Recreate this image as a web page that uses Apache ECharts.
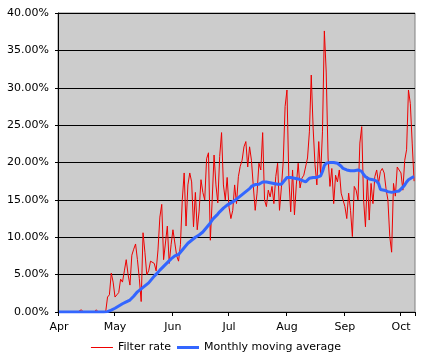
<!DOCTYPE html>
<html>
<head>
<meta charset="utf-8">
<script src="https://cdn.jsdelivr.net/npm/echarts@6/dist/echarts.min.js"></script>
<style>
html,body{margin:0;padding:0;background:#fff;}
#c{width:432px;height:361px;}
</style>
</head>
<body>
<div id="c"></div>
<script>
// Month tick labels and the day index (from Apr 1) where each month starts
var monthLabels = ['Apr','May','Jun','Jul','Aug','Sep','Oct'];
var monthStartIdx = [0, 30, 61, 91, 122, 153, 183];

// Daily filter rate (%), Apr 1 .. Oct 9
var filterRate = [
  0,0,0,0,0,0,0,0,0,0,0,0,0.3,0,0,0,0,0,0,0,0.3,0,0,0,0,0,
  2.0,2.3,5.2,4.0,2.0,2.3,2.6,4.4,4.0,5.5,7.0,5.0,3.6,7.6,8.4,9.1,7.0,4.5,1.4,10.6,8.0,5.0,5.5,6.8,7.0,6.5,5.5,8.3,12.7,14.4,7.0,7.0,11.5,6.5,9.0,
  11.0,10.8,7.5,6.8,9.0,15.0,18.6,11.5,17.0,18.6,17.4,11.4,16.0,11.0,13.5,17.7,16.0,15.0,20.5,21.3,9.6,15.0,21.0,17.0,14.6,20.8,24.0,17.0,15.0,18.0,
  14.0,12.5,13.6,17.0,14.5,18.1,19.5,20.3,22.1,22.8,19.4,22.1,20.3,16.8,13.6,15.9,19.9,19.0,24.0,15.0,14.1,16.3,15.4,16.8,14.5,18.1,19.9,13.6,16.6,20.1,
  27.5,29.7,17.9,13.4,19.0,13.0,17.0,19.9,16.6,17.9,18.3,18.1,20.6,24.1,31.7,24.6,19.7,17.0,22.8,18.3,24.1,37.6,32.1,20.6,16.8,19.2,14.5,18.3,17.4,19.0,
  15.9,16.1,14.1,12.5,15.9,13.6,10.1,16.8,16.3,15.0,22.6,24.8,15.0,11.4,18.1,12.3,17.2,14.5,18.1,19.0,17.2,18.8,19.2,18.6,16.5,15.0,10.1,8.0,17.2,15.5,
  19.4,19.2,18.6,16.3,20.3,21.7,29.7,27.9,22.6,17.5
];

// Monthly moving average (%)
var movingAvg = [
  0,0,0,0,0,0,0,0,0,0,0,0,0,0,0,0,0,0,0,0,0,0,0,0,0,0,
  0.05,0.15,0.25,0.35,0.5,0.6,0.8,0.95,1.1,1.2,1.35,1.5,1.6,1.8,2.1,2.4,2.7,2.9,3.1,3.3,3.5,3.7,3.9,4.2,4.5,4.8,5.0,5.3,5.6,5.8,6.1,6.3,6.6,6.8,7.1,
  7.3,7.5,7.6,7.7,7.9,8.3,8.6,8.9,9.2,9.4,9.6,9.8,10.0,10.15,10.3,10.5,10.7,11.0,11.3,11.6,11.9,12.3,12.6,12.8,13.1,13.4,13.6,13.9,14.1,14.3,
  14.45,14.6,14.8,14.9,15.1,15.3,15.5,15.7,15.9,16.1,16.3,16.5,16.8,17.0,17.05,17.1,17.1,17.2,17.4,17.4,17.4,17.35,17.3,17.2,17.2,17.1,17.1,17.05,17.1,17.4,
  17.7,18.0,18.0,18.0,17.9,17.9,17.8,17.8,17.7,17.6,17.5,17.4,17.5,17.9,17.9,18.0,18.0,18.0,18.1,18.2,18.8,19.6,19.9,19.9,20.0,20.0,20.0,19.9,19.9,19.9,
  19.5,19.2,19.1,19.0,19.0,18.9,18.9,18.9,19.0,19.0,18.9,18.8,18.4,18.1,17.9,17.8,17.75,17.7,17.6,17.5,17.2,16.4,16.3,16.3,16.2,16.1,16.0,16.0,16.0,16.1,
  16.15,16.2,16.4,16.7,17.0,17.4,17.7,17.9,18.0,18.1
];

// Day categories (index of each day from Apr 1)
var days = [];
for (var i = 0; i < filterRate.length; i++) days.push(String(i));

function isMonthStart(idx) { return monthStartIdx.indexOf(idx) >= 0; }

var font = 'DejaVu Sans';
var chart = echarts.init(document.getElementById('c'), null, {renderer: 'canvas'});
chart.setOption({
  animation: false,
  backgroundColor: '#ffffff',
  textStyle: {fontFamily: font},
  grid: {
    left: 58, top: 13, right: 17, bottom: 49,
    show: true, backgroundColor: '#cccccc', borderColor: '#808080', borderWidth: 1
  },
  legend: {
    bottom: 3, left: 'center',
    itemWidth: 22, itemHeight: 10, itemGap: 6,
    symbolKeepAspect: true,
    textStyle: {fontFamily: font, fontSize: 11, color: '#000'},
    data: [
      {name: 'Filter rate', icon: 'path://M0,0L22,0L22,1L0,1Z'},
      {name: 'Monthly moving average', icon: 'path://M0,0L22,0L22,3L0,3Z'}
    ]
  },
  xAxis: {
    type: 'category',
    data: days,
    boundaryGap: true,
    axisLine: {lineStyle: {color: '#000', width: 1}},
    axisTick: {
      show: true, length: 4, alignWithLabel: false,
      interval: function (idx) { return isMonthStart(idx); },
      lineStyle: {color: '#000'}
    },
    axisLabel: {
      interval: function (idx) { return isMonthStart(idx); },
      formatter: function (v, idx) {
        var k = monthStartIdx.indexOf(idx);
        return k >= 0 ? monthLabels[k] : '';
      },
      fontFamily: font, fontSize: 11, color: '#000', margin: 10
    },
    splitLine: {show: false}
  },
  yAxis: {
    type: 'value',
    min: 0, max: 40, interval: 5,
    axisLine: {show: true, lineStyle: {color: '#000', width: 1}},
    axisTick: {show: true, length: 3, lineStyle: {color: '#000'}},
    axisLabel: {
      formatter: function (v) { return v.toFixed(2) + '%'; },
      fontFamily: font, fontSize: 11, color: '#000', margin: 9
    },
    splitLine: {show: true, lineStyle: {color: '#000', width: 1}}
  },
  series: [
    {
      name: 'Filter rate', type: 'line', data: filterRate,
      showSymbol: false, symbol: 'none',
      lineStyle: {color: '#ee0000', width: 1},
      itemStyle: {color: '#ee0000'},
      z: 2
    },
    {
      name: 'Monthly moving average', type: 'line', data: movingAvg,
      showSymbol: false, symbol: 'none',
      lineStyle: {color: '#3366ff', width: 3},
      itemStyle: {color: '#3366ff'},
      z: 3
    }
  ]
});
</script>
</body>
</html>
